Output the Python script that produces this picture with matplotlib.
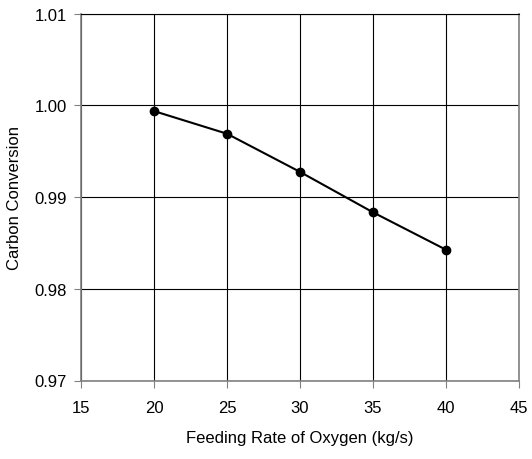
import matplotlib
matplotlib.use("Agg")
import matplotlib.pyplot as plt

# Oxygen feed rate (kg/s) and resulting carbon conversion
oxygen_rate = [20, 25, 30, 35, 40]
carbon_conversion = [0.99938, 0.99691, 0.99275, 0.98834, 0.98426]

x_ticks = [15, 20, 25, 30, 35, 40, 45]
y_ticks = [0.97, 0.98, 0.99, 1.00, 1.01]

plt.rcParams["font.family"] = ["Liberation Sans", "DejaVu Sans"]

fig = plt.figure(figsize=(5.32, 4.6), dpi=100)
ax = fig.add_axes([81 / 532, 1 - 381.5 / 460, 438 / 532, 366.8 / 460])

ax.plot(oxygen_rate, carbon_conversion, "k-", lw=1.5, marker="o", ms=6,
        zorder=3)

ax.set_xlim(15, 45)
ax.set_ylim(0.97, 1.01)
ax.set_xticks(x_ticks)
ax.set_yticks(y_ticks)
ax.set_yticklabels([f"{v:.2f}" for v in y_ticks])
ax.grid(True, color="black", lw=0.8)
ax.set_axisbelow(True)

for side, spine in ax.spines.items():
    spine.set_color("#808080")
    spine.set_linewidth(1.2)
ax.spines["top"].set_color("black")
ax.spines["top"].set_linewidth(0.8)

ax.tick_params(direction="out", length=5, width=0.8, color="#808080",
               labelsize=12)
ax.tick_params(axis="x", pad=9)
ax.tick_params(axis="y", pad=5)
ax.set_xlabel("Feeding Rate of Oxygen (kg/s)", fontsize=12, labelpad=11)
ax.set_ylabel("Carbon Conversion", fontsize=12, labelpad=9)

fig.savefig("out.png", dpi=100)
